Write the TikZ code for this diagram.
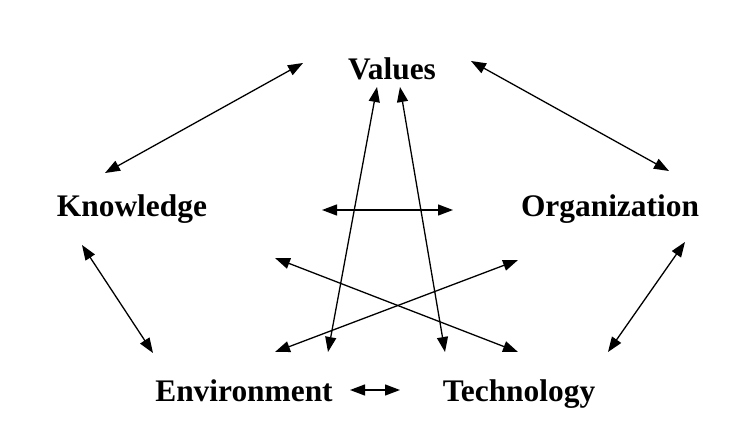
\documentclass[tikz,border=0pt]{standalone}
\usepackage{fontspec}
\setmainfont{Liberation Serif}
\usetikzlibrary{arrows.meta}

\begin{document}
\begin{tikzpicture}[x=0.5pt, y=-0.5pt,
    factor/.style={anchor=base, inner sep=0pt, font=\fontsize{15.7}{18}\selectfont\bfseries},
    twoway/.style={{Triangle[length=7.5pt, width=5.5pt]}-{Triangle[length=7.5pt, width=5.5pt]}, line width=0.65pt}]
  \useasboundingbox (0,0) rectangle (734,439);

  % The five factors
  \node[factor] (values) at (392, 79) {Values};
  \node[factor] (knowledge) at (132, 216) {Knowledge};
  \node[factor] (organization) at (610, 216) {Organization};
  \node[factor] (environment) at (244, 401) {Environment};
  \node[factor] (technology) at (519, 401) {Technology};

  % Arrow end points
  \coordinate (kv1) at (105, 173);  \coordinate (kv2) at (303, 63);
  \coordinate (vo1) at (471, 61);   \coordinate (vo2) at (669, 171);
  \coordinate (ke1) at (82, 245);   \coordinate (ke2) at (153, 353);
  \coordinate (ot1) at (685, 242);  \coordinate (ot2) at (608, 352);
  \coordinate (et1) at (350, 390);  \coordinate (et2) at (400, 390);
  \coordinate (mid1) at (322, 210); \coordinate (mid2) at (453, 210);
  \coordinate (ve1) at (377, 87);   \coordinate (ve2) at (328, 352);
  \coordinate (vt1) at (400, 87);   \coordinate (vt2) at (445, 352);
  \coordinate (kt1) at (275, 258);  \coordinate (kt2) at (518, 352);
  \coordinate (eo1) at (275, 352);  \coordinate (eo2) at (518, 260);

  % Two-way links
  \foreach \link in {kv, vo, ke, ot, et, mid, ve, vt, kt, eo} {
    \draw[twoway] (\link1) -- (\link2);
  }
\end{tikzpicture}
\end{document}
